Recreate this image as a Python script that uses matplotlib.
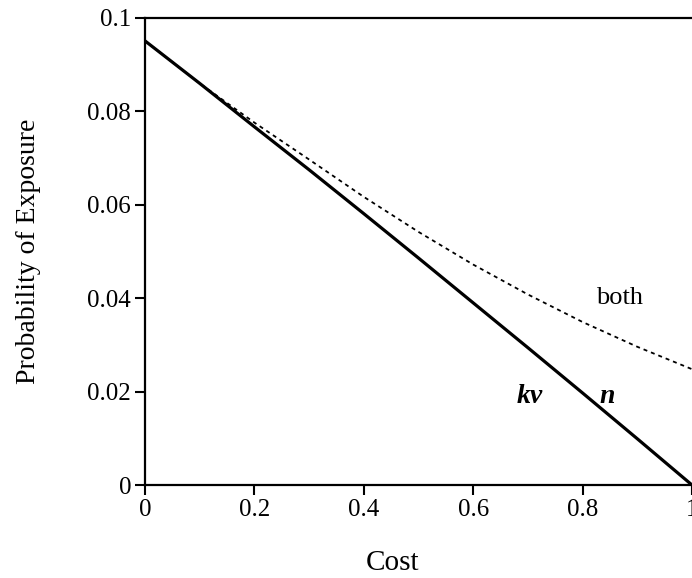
import numpy as np
import matplotlib.pyplot as plt

# values
cost = [0.0, 0.1, 0.2, 0.3, 0.4, 0.5, 0.6, 0.7, 0.8, 0.9, 1.0]
p_single = [0.0951, 0.0860, 0.0767, 0.0675, 0.0581, 0.0486, 0.0390, 0.0294, 0.0197, 0.0099, 0.0]
p_both = [0.0951, 0.0860, 0.0776, 0.0697, 0.0617, 0.0542, 0.0472, 0.0408, 0.0349, 0.0296, 0.0248]

xticks = [0, 0.2, 0.4, 0.6, 0.8, 1]
xticklabels = ['0', '0.2', '0.4', '0.6', '0.8', '1']
yticks = [0, 0.02, 0.04, 0.06, 0.08, 0.1]
yticklabels = ['0', '0.02', '0.04', '0.06', '0.08', '0.1']

plt.rcParams['font.family'] = ['Liberation Serif', 'DejaVu Serif']

fig = plt.figure(figsize=(6.92, 5.78), dpi=100)
ax = fig.add_axes([145/692, 93/578, 547/692, 467/578])

ax.plot(cost, p_single, color='black', lw=2.3, solid_capstyle='butt')
ax.plot(cost, p_both, color='black', lw=1.3, dashes=(2.2, 2.2))

ax.text(0.868, 0.0400, 'both', fontsize=19, ha='center', va='center')
ax.text(0.704, 0.0190, 'kv', fontsize=20, style='italic', weight='bold', ha='center', va='center')
ax.text(0.845, 0.0190, 'n', fontsize=20, style='italic', weight='bold', ha='center', va='center')

ax.set_xlim(0, 1)
ax.set_ylim(0, 0.1)
ax.set_xticks(xticks)
ax.set_xticklabels(xticklabels)
ax.set_yticks(yticks)
ax.set_yticklabels(yticklabels)
ax.tick_params(direction='out', length=7, width=1.5, labelsize=18, pad=3)
for s in ['left', 'bottom', 'top']:
    ax.spines[s].set_linewidth(1.6)
ax.spines['right'].set_visible(False)

ax.set_xlabel('Cost', fontsize=21)
ax.set_ylabel('Probability of Exposure', fontsize=20)
ax.xaxis.set_label_coords(0.452, -0.140)
ax.yaxis.set_label_coords(-0.190, 0.5)

fig.savefig('out.png', dpi=100)
